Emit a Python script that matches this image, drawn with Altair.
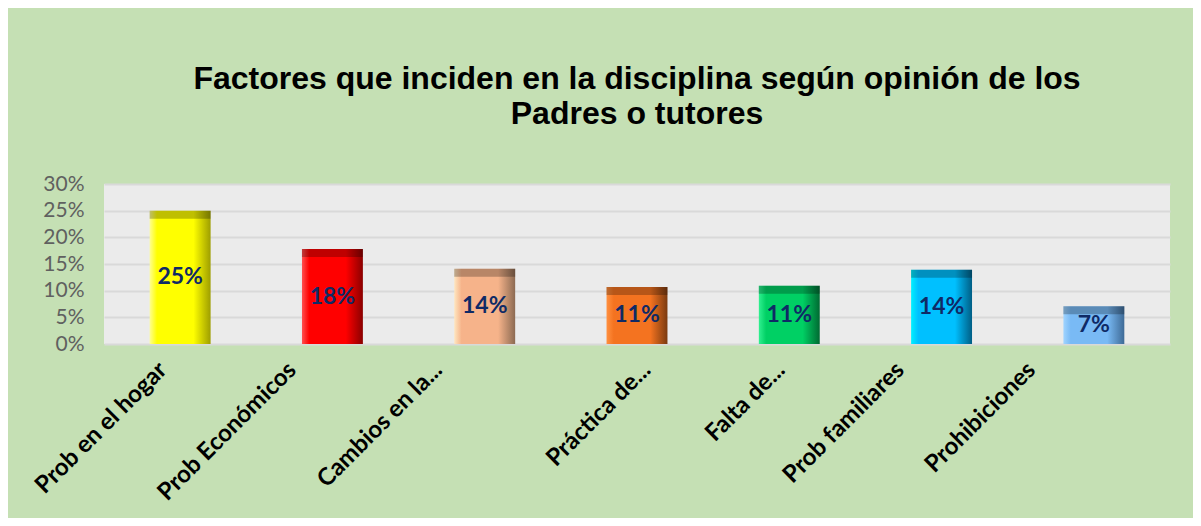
import altair as alt
import pandas as pd

categories = ["Prob en el hogar", "Prob Económicos", "Cambios en la...", "Práctica de...",
              "Falta de...", "Prob familiares", "Prohibiciones"]
values = [0.25, 0.178, 0.141, 0.107, 0.109, 0.139, 0.071]
main_colors = ["#FFFF00", "#FF0000", "#F6B38A", "#F47320", "#00D064", "#00C0FF", "#79BAF5"]
light_colors = ["#FFFF90", "#FF5050", "#FFE6C0", "#FF9040", "#30F090", "#00F0FF", "#A0D4FF"]
dark_colors = ["#9E9E00", "#8A0000", "#8C6A52", "#7A3A10", "#006A32", "#005E85", "#3E6A96"]
label_shift = [-17, -40, -46, 10, -8, -41, -62]
y_ticks = [0, 0.05, 0.10, 0.15, 0.20, 0.25, 0.30]

df = pd.DataFrame({"cat": categories, "val": values})

offset_cond = {
    "condition": [{"test": f"datum.value === '{c}'", "value": s}
                  for c, s in zip(categories, label_shift)],
    "value": -30,
}

x_axis = alt.Axis(labelAngle=-45, labelAlign="right", labelBaseline="middle",
                  labelFont="Lato", labelFontSize=24, labelFontWeight="bold",
                  labelColor="#000000", ticks=False, domain=False,
                  labelPadding=22, labelLimit=400, labelOffset=offset_cond)
x_enc = alt.X("cat:N", sort=categories, title=None,
              scale=alt.Scale(paddingInner=0.6, paddingOuter=0.3), axis=x_axis)

y_axis = alt.Axis(values=y_ticks, format=".0%", labelFont="Lato",
                  labelFontSize=21, labelColor="#606060", ticks=False,
                  domain=False, gridColor="#D9D9D9", gridWidth=2,
                  labelPadding=20)
y_scale = alt.Scale(domain=[0, 0.30], nice=False)
y_enc = alt.Y("val:Q", title=None, scale=y_scale, axis=y_axis)

layers = []
for i, c in enumerate(categories):
    grad = alt.Gradient(
        gradient="linear", x1=0, x2=1, y1=0, y2=0,
        stops=[alt.GradientStop(color=light_colors[i], offset=0),
               alt.GradientStop(color=main_colors[i], offset=0.12),
               alt.GradientStop(color=main_colors[i], offset=0.72),
               alt.GradientStop(color=dark_colors[i], offset=1)])
    layers.append(
        alt.Chart(df).transform_filter(alt.datum.cat == c)
        .mark_bar(color=grad).encode(x=x_enc, y=y_enc)
    )

top_band = alt.Chart(df).mark_tick(color="#000000", opacity=0.25, thickness=8,
                                   size=61, yOffset=4).encode(x=x_enc, y=y_enc)

labels = alt.Chart(df).mark_text(font="Lato", fontSize=23, fontWeight="bold",
                                 color="#0F2A66", baseline="middle").encode(
    x=x_enc,
    y=alt.Y("mid:Q", title=None, scale=y_scale, axis=y_axis),
    text=alt.Text("val:Q", format=".0%"),
).transform_calculate(mid="datum.val / 2")

chart = alt.layer(*layers, top_band, labels).properties(
    width=1066, height=160,
    autosize=alt.AutoSizeParams(type="none"),
    padding={"left": 96, "top": 176, "right": 23, "bottom": 174},
    background="#C5E0B4",
    title=alt.Title(["Factores que inciden en la disciplina según opinión de los",
                     "Padres o tutores"],
                    font="Liberation Sans", fontSize=32, fontWeight="bold",
                    color="#000000", anchor="middle", lineHeight=35, offset=42),
).configure_view(fill="#EBEBEB", stroke=None)

chart.save("out.html", embed_options={"renderer": "svg", "actions": False})
